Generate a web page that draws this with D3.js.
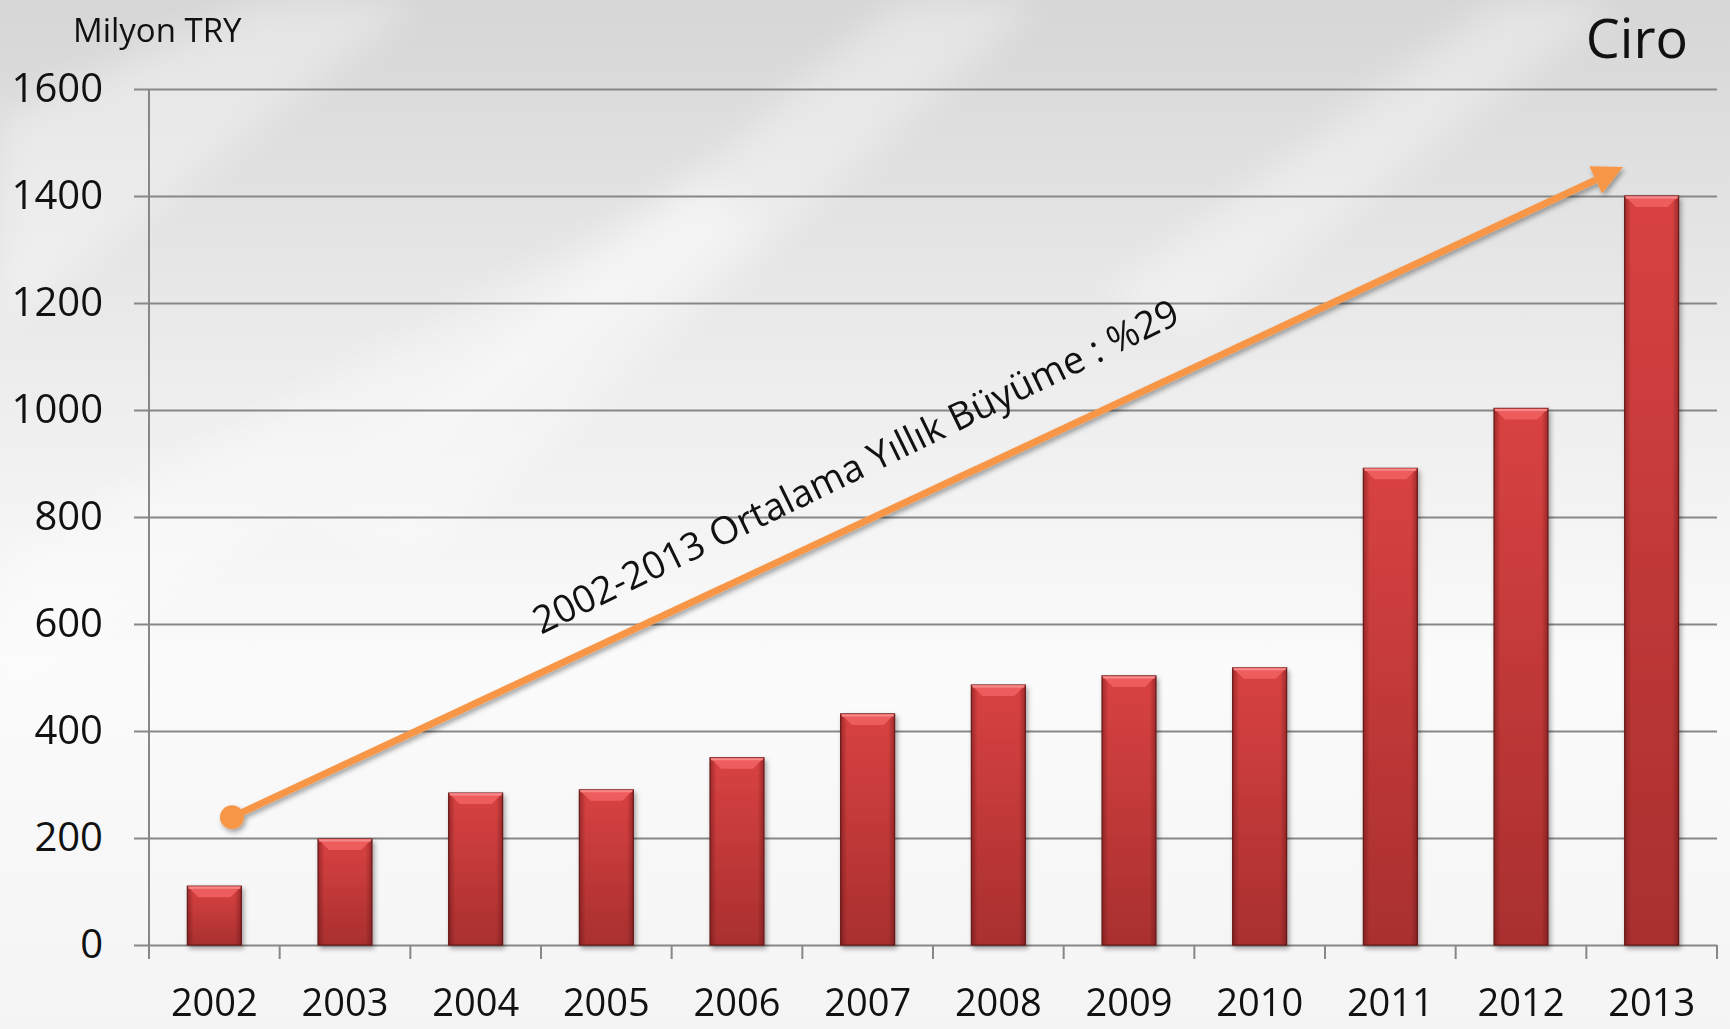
<!DOCTYPE html>
<html lang="tr">
<head>
<meta charset="UTF-8">
<title>Ciro</title>
<script src="https://d3js.org/d3.v7.min.js"></script>
<style>
  html, body { margin: 0; padding: 0; background: #eee; }
  svg { display: block; font-family: "Open Sans", "Noto Sans", sans-serif; }
</style>
</head>
<body>
<script>
// data
var years = ["2002","2003","2004","2005","2006","2007","2008","2009","2010","2011","2012","2013"];
var ciro = [110, 198, 284, 290, 350, 432, 486, 503, 518, 891, 1003, 1400];
var yTicks = [0, 200, 400, 600, 800, 1000, 1200, 1400, 1600];
// growth arrow, in category index / value units
var arrowFrom = [0.635, 239];
var arrowTo = [11.28, 1454];
var arrowLabel = "2002-2013 Ortalama Yıllık Büyüme : %29";

var W = 1730, H = 1029;
var margin = {top: 89, right: 13, bottom: 84, left: 149};

var svg = d3.select("body").append("svg")
    .attr("width", W)
    .attr("height", H);

var defs = svg.append("defs");

// background
var bg = defs.append("linearGradient").attr("id", "bg")
    .attr("x1", 0).attr("y1", 0).attr("x2", 0).attr("y2", 1);
bg.append("stop").attr("offset", "0%").attr("stop-color", "#d6d6d6");
bg.append("stop").attr("offset", "35%").attr("stop-color", "#ececec");
bg.append("stop").attr("offset", "65%").attr("stop-color", "#fbfbfb");
bg.append("stop").attr("offset", "100%").attr("stop-color", "#f4f4f4");

defs.append("filter").attr("id", "blur")
    .append("feGaussianBlur").attr("stdDeviation", 18);

var shadow = defs.append("filter").attr("id", "shadow")
    .attr("x", "-20%").attr("y", "-20%").attr("width", "140%").attr("height", "140%");
shadow.append("feDropShadow").attr("dx", 2).attr("dy", 3)
    .attr("stdDeviation", 2.5).attr("flood-color", "#000").attr("flood-opacity", 0.35);

var barGrad = defs.append("linearGradient").attr("id", "barGrad")
    .attr("x1", 0).attr("y1", 0).attr("x2", 0).attr("y2", 1);
barGrad.append("stop").attr("offset", "0%").attr("stop-color", "#d94242");
barGrad.append("stop").attr("offset", "100%").attr("stop-color", "#a92f2f");

var sideGrad = defs.append("linearGradient").attr("id", "sideGrad")
    .attr("x1", 0).attr("y1", 0).attr("x2", 1).attr("y2", 0);
sideGrad.append("stop").attr("offset", "0%").attr("stop-color", "#5a1010").attr("stop-opacity", 0.45);
sideGrad.append("stop").attr("offset", "12%").attr("stop-color", "#5a1010").attr("stop-opacity", 0);
sideGrad.append("stop").attr("offset", "88%").attr("stop-color", "#5a1010").attr("stop-opacity", 0);
sideGrad.append("stop").attr("offset", "100%").attr("stop-color", "#5a1010").attr("stop-opacity", 0.45);

svg.append("rect").attr("width", W).attr("height", H).attr("fill", "url(#bg)");

// soft diagonal light streaks
var streaks = [
  "M0,120 L260,0 L420,0 L0,330 Z",
  "M300,520 L900,0 L1040,0 L420,560 Z",
  "M1100,300 L1500,0 L1620,0 L1200,330 Z",
  "M0,560 L700,180 L760,230 L0,700 Z"
];
svg.append("g").attr("filter", "url(#blur)")
  .selectAll("path").data(streaks).enter().append("path")
    .attr("d", function(d) { return d; })
    .attr("fill", "#ffffff").attr("opacity", 0.35);

var x = d3.scaleBand().domain(years)
    .range([margin.left, W - margin.right])
    .paddingInner(0.587).paddingOuter(0.2935);
var y = d3.scaleLinear().domain([0, 1600]).range([H - margin.bottom, margin.top]);
// index scale for annotation
var xi = d3.scaleLinear().domain([0, years.length]).range([margin.left, W - margin.right]);

// gridlines + y labels
var yAxis = svg.append("g")
    .attr("transform", "translate(" + (margin.left - 15) + ",0)")
    .call(d3.axisLeft(y).tickValues(yTicks).tickFormat(d3.format("d"))
      .tickSize(-(W - margin.right - margin.left + 15)).tickPadding(31));
yAxis.select(".domain").remove();
yAxis.selectAll("line").attr("stroke", "#878787").attr("stroke-width", 2);
yAxis.selectAll("text")
    .attr("font-size", 40).attr("fill", "#111")
    .attr("font-family", "Open Sans");

// vertical axis line
svg.append("line")
    .attr("x1", margin.left).attr("x2", margin.left)
    .attr("y1", y(1600)).attr("y2", y(0) + 14)
    .attr("stroke", "#878787").attr("stroke-width", 2);

// category tick marks
var bounds = years.map(function(d) { return x(d) - x.step() * x.paddingInner() / 2; });
bounds.push(W - margin.right);
svg.append("g").selectAll("line").data(bounds).enter().append("line")
    .attr("x1", function(d) { return d; }).attr("x2", function(d) { return d; })
    .attr("y1", y(0)).attr("y2", y(0) + 14)
    .attr("stroke", "#878787").attr("stroke-width", 2);

// x labels
var xAxis = svg.append("g")
    .attr("transform", "translate(0," + y(0) + ")")
    .call(d3.axisBottom(x).tickSize(0).tickPadding(44));
xAxis.select(".domain").remove();
xAxis.selectAll("text")
    .attr("font-size", 38).attr("fill", "#111")
    .attr("font-family", "Open Sans");

// bars
var bars = svg.append("g").selectAll("g.bar")
    .data(years.map(function(d, i) { return {year: d, v: ciro[i]}; }))
  .enter().append("g").attr("class", "bar");

bars.append("rect")
    .attr("x", function(d) { return x(d.year); })
    .attr("y", function(d) { return y(d.v); })
    .attr("width", x.bandwidth())
    .attr("height", function(d) { return y(0) - y(d.v); })
    .attr("fill", "url(#barGrad)")
    .attr("stroke", "#6b1a1a").attr("stroke-width", 1.2)
    .attr("filter", "url(#shadow)");

bars.append("rect")
    .attr("x", function(d) { return x(d.year); })
    .attr("y", function(d) { return y(d.v); })
    .attr("width", x.bandwidth())
    .attr("height", function(d) { return y(0) - y(d.v); })
    .attr("fill", "url(#sideGrad)");

// bevel on top
var bev = 11;
bars.append("path")
    .attr("d", function(d) {
      var x0 = x(d.year), x1 = x0 + x.bandwidth(), t = y(d.v);
      return "M" + x0 + "," + t + "L" + x1 + "," + t + "L" + (x1 - bev) + "," + (t + bev) +
             "L" + (x0 + bev) + "," + (t + bev) + "Z";
    })
    .attr("fill", "#ee5d5d");
bars.append("line")
    .attr("x1", function(d) { return x(d.year) + 1; })
    .attr("x2", function(d) { return x(d.year) + x.bandwidth() - 1; })
    .attr("y1", function(d) { return y(d.v) + 1.5; })
    .attr("y2", function(d) { return y(d.v) + 1.5; })
    .attr("stroke", "#f58a8a").attr("stroke-width", 2);

// growth arrow
var ax0 = xi(arrowFrom[0]), ay0 = y(arrowFrom[1]);
var ax1 = xi(arrowTo[0]), ay1 = y(arrowTo[1]);
var ang = Math.atan2(ay1 - ay0, ax1 - ax0);
var headLen = 30, headW = 15;
var bx = ax1 - headLen * Math.cos(ang), by = ay1 - headLen * Math.sin(ang);

var arrow = svg.append("g").attr("filter", "url(#shadow)");
arrow.append("line")
    .attr("x1", ax0).attr("y1", ay0)
    .attr("x2", bx).attr("y2", by)
    .attr("stroke", "#f79646").attr("stroke-width", 7);
arrow.append("path")
    .attr("d", "M" + ax1 + "," + ay1 +
               "L" + (bx + headW * Math.sin(ang)) + "," + (by - headW * Math.cos(ang)) +
               "L" + (bx - headW * Math.sin(ang)) + "," + (by + headW * Math.cos(ang)) + "Z")
    .attr("fill", "#f79646");
arrow.append("circle")
    .attr("cx", ax0).attr("cy", ay0).attr("r", 12)
    .attr("fill", "#f79646");

// arrow label
svg.append("text")
    .attr("transform", "translate(" + xi(3.0) + "," + y(580) + ") rotate(-26)")
    .attr("font-size", 38)
    .attr("fill", "#111")
    .text(arrowLabel);

// titles
svg.append("text")
    .attr("x", 73).attr("y", 42)
    .attr("font-size", 33).attr("fill", "#111")
    .text("Milyon TRY");

svg.append("text")
    .attr("x", 1688).attr("y", 58)
    .attr("text-anchor", "end")
    .attr("font-size", 54).attr("fill", "#111")
    .text("Ciro");
</script>
</body>
</html>
